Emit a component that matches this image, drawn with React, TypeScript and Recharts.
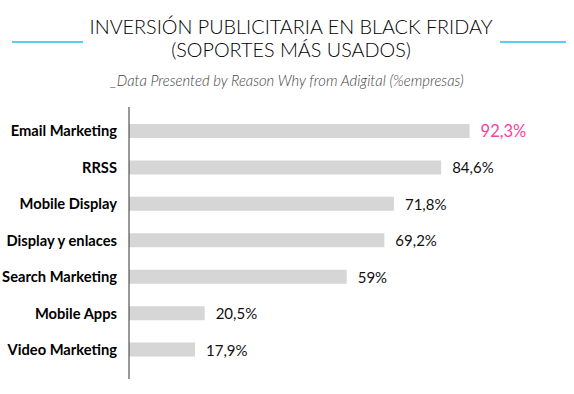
import { BarChart, Bar, XAxis, YAxis, LabelList } from 'recharts';

// Soportes más usados en Black Friday (% empresas)
const categories = [
  'Email Marketing',
  'RRSS',
  'Mobile Display',
  'Display y enlaces',
  'Search Marketing',
  'Mobile Apps',
  'Video Marketing',
];
const values = [92.3, 84.6, 71.8, 69.2, 59, 20.5, 17.9];
const valueLabels = ['92,3%', '84,6%', '71,8%', '69,2%', '59%', '20,5%', '17,9%'];

const data = categories.map((name, i) => ({ name, value: values[i], label: valueLabels[i] }));

const renderValue = (props: any) => {
  const { x, y, width, height, index } = props;
  const first = index === 0;
  return (
    <text
      x={x + width + 11}
      y={y + height / 2}
      dominantBaseline="central"
      fontFamily="Lato, sans-serif"
      fontWeight={400}
      fontSize={first ? 16.5 : 15}
      fill={first ? '#f0459b' : '#111'}
    >
      {valueLabels[index]}
    </text>
  );
};

const App = () => {
  return (
    <div style={{ position: 'absolute', left: 0, top: 0, width: 574, height: 394, background: '#fff' }}>
      {/* decorative lines beside the title */}
      <div style={{ position: 'absolute', left: 12, top: 41, width: 71, height: 2, background: '#5ccdf2' }} />
      <div style={{ position: 'absolute', left: 500, top: 41, width: 66, height: 2, background: '#5ccdf2' }} />
      <div
        style={{
          position: 'absolute',
          left: 4,
          top: 15,
          width: 574,
          textAlign: 'center',
          fontFamily: 'Lato, sans-serif',
          fontWeight: 300,
          fontSize: 19.8,
          lineHeight: '23px',
          color: '#000',
        }}
      >
        INVERSIÓN PUBLICITARIA EN BLACK FRIDAY
        <br />
        (SOPORTES MÁS USADOS)
      </div>
      <div
        style={{
          position: 'absolute',
          left: 0,
          top: 71,
          width: 574,
          textAlign: 'center',
          fontFamily: 'Lato, sans-serif',
          fontStyle: 'italic',
          fontWeight: 300,
          fontSize: 14.8,
          color: '#444',
        }}
      >
        _Data Presented by Reason Why from Adigital (%empresas)
      </div>
      <div style={{ position: 'absolute', left: 0, top: 0 }}>
        <BarChart
          width={574}
          height={394}
          data={data}
          layout="vertical"
          margin={{ top: 107, right: 76, left: 0, bottom: 15 }}
        >
          <XAxis type="number" domain={[0, 100]} hide />
          <YAxis
            type="category"
            dataKey="name"
            width={129}
            padding={{ top: 6, bottom: 11 }}
            axisLine={{ stroke: '#333', strokeWidth: 1 }}
            tickLine={false}
            tickSize={0}
            tickMargin={12}
            tick={{ fill: '#000', fontSize: 14.7, fontWeight: 700, fontFamily: 'Lato, sans-serif' }}
          />
          <Bar dataKey="value" fill="#d6d6d6" barSize={14} isAnimationActive={false}>
            <LabelList dataKey="label" content={renderValue} />
          </Bar>
        </BarChart>
      </div>
    </div>
  );
};

export default App;
